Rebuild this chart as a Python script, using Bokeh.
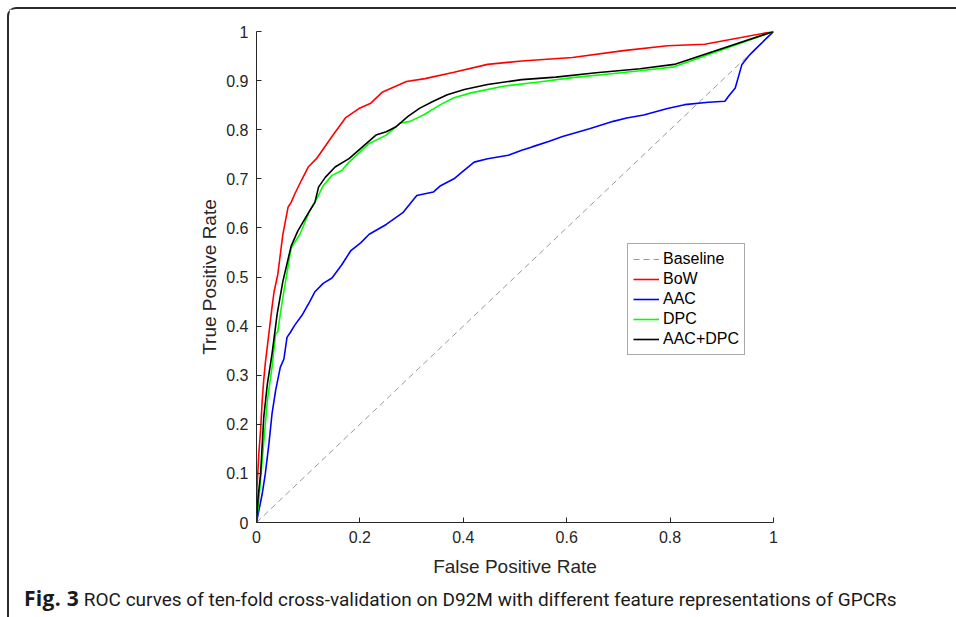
from bokeh.plotting import figure
from bokeh.models import Legend, LegendItem, FixedTicker, Range1d, Div
from bokeh.layouts import column
from bokeh.embed import file_html
from bokeh.resources import INLINE

# ---- data ----
bow_fpr = [0, 0.0, 0.001, 0.0045, 0.008, 0.011, 0.014, 0.017, 0.024, 0.03, 0.034, 0.041, 0.051, 0.061,
           0.067, 0.074, 0.087, 0.1, 0.116, 0.146, 0.172, 0.198, 0.221, 0.244, 0.29, 0.326, 0.382, 0.447,
           0.513, 0.611, 0.71, 0.795, 0.867, 1.0]
bow_tpr = [0, 0.031, 0.072, 0.14, 0.19, 0.248, 0.29, 0.324, 0.385, 0.438, 0.47, 0.504, 0.587, 0.642,
           0.652, 0.669, 0.697, 0.724, 0.741, 0.786, 0.824, 0.843, 0.854, 0.877, 0.898, 0.904, 0.917, 0.933,
           0.94, 0.947, 0.961, 0.971, 0.974, 1.0]

aac_fpr = [0, 0.0045, 0.011, 0.017, 0.024, 0.030, 0.037, 0.046, 0.053, 0.059, 0.066, 0.074, 0.088, 0.103,
           0.113, 0.129, 0.146, 0.165, 0.182, 0.202, 0.218, 0.251, 0.283, 0.31, 0.342, 0.356, 0.382, 0.398,
           0.421, 0.447, 0.487, 0.513, 0.533, 0.565, 0.592, 0.644, 0.69, 0.716, 0.749, 0.795, 0.828, 0.874,
           0.906, 0.913, 0.926, 0.939, 0.952, 0.965, 1.0]
aac_tpr = [0, 0.024, 0.058, 0.099, 0.16, 0.221, 0.269, 0.316, 0.333, 0.377, 0.388, 0.402, 0.422, 0.45,
           0.47, 0.487, 0.498, 0.525, 0.553, 0.57, 0.587, 0.607, 0.631, 0.666, 0.673, 0.686, 0.7, 0.714,
           0.734, 0.741, 0.748, 0.758, 0.765, 0.776, 0.786, 0.802, 0.817, 0.824, 0.830, 0.843, 0.851, 0.856,
           0.858, 0.868, 0.885, 0.933, 0.95, 0.964, 1.0]

dpc_fpr = [0, 0.0045, 0.011, 0.021, 0.03, 0.037, 0.041, 0.05, 0.054, 0.067, 0.084, 0.103, 0.117, 0.129,
           0.146, 0.165, 0.179, 0.218, 0.251, 0.277, 0.297, 0.323, 0.356, 0.382, 0.415, 0.48, 0.546, 0.611,
           0.677, 0.742, 0.808, 1.0]
dpc_tpr = [0, 0.045, 0.126, 0.248, 0.316, 0.384, 0.388, 0.452, 0.477, 0.559, 0.587, 0.635, 0.66, 0.686,
           0.707, 0.717, 0.734, 0.772, 0.789, 0.813, 0.817, 0.83, 0.851, 0.865, 0.875, 0.889, 0.897, 0.906,
           0.913, 0.92, 0.928, 1.0]

combo_fpr = [0, 0.003, 0.008, 0.014, 0.021, 0.03, 0.04, 0.051, 0.067, 0.08, 0.103, 0.113, 0.12, 0.133,
             0.152, 0.179, 0.205, 0.231, 0.251, 0.27, 0.293, 0.316, 0.342, 0.369, 0.402, 0.447, 0.513, 0.579,
             0.657, 0.742, 0.808, 1.0]
combo_tpr = [0, 0.05, 0.1, 0.214, 0.282, 0.343, 0.425, 0.491, 0.563, 0.594, 0.635, 0.652, 0.683, 0.703,
             0.724, 0.741, 0.765, 0.789, 0.796, 0.806, 0.827, 0.844, 0.858, 0.871, 0.882, 0.892, 0.902, 0.907,
             0.916, 0.924, 0.933, 1.0]

baseline_x = [0, 1]
baseline_y = [0, 1]

series_names = ["Baseline", "BoW", "AAC", "DPC", "AAC+DPC"]
x_ticks = [0, 0.2, 0.4, 0.6, 0.8, 1]
y_ticks = [0, 0.1, 0.2, 0.3, 0.4, 0.5, 0.6, 0.7, 0.8, 0.9, 1]
tick_text = {0: "0", 0.1: "0.1", 0.2: "0.2", 0.3: "0.3", 0.4: "0.4", 0.5: "0.5", 0.6: "0.6",
             0.7: "0.7", 0.8: "0.8", 0.9: "0.9", 1: "1"}
caption_bold = "Fig. 3"
caption_rest = "ROC curves of ten-fold cross-validation on D92M with different feature representations of GPCRs"

OFF = 9            # frame line (border) offset of the content
FW, FH = 956 - OFF, 571
p = figure(width=FW, height=FH, output_backend="svg", toolbar_location=None,
           x_range=Range1d(0, 1), y_range=Range1d(0, 1),
           min_border_left=256 - OFF, min_border_right=FW - (773 - OFF),
           min_border_top=31 - OFF, min_border_bottom=FH - (522 - OFF))
p.outline_line_color = None
p.xgrid.visible = False
p.ygrid.visible = False

FONT = "Liberation Sans"
TXT = "#262626"
for ax, ticks in ((p.xaxis[0], x_ticks), (p.yaxis[0], y_ticks)):
    ax.ticker = FixedTicker(ticks=ticks)
    ax.major_label_overrides = tick_text
    ax.major_tick_in = 5
    ax.major_tick_out = 0
    ax.minor_tick_in = 0
    ax.minor_tick_out = 0
    ax.axis_line_color = TXT
    ax.major_tick_line_color = TXT
    ax.major_label_text_font = FONT
    ax.major_label_text_font_size = "16px"
    ax.major_label_text_color = TXT
    ax.axis_label_text_font = FONT
    ax.axis_label_text_font_size = "19px"
    ax.axis_label_text_font_style = "normal"
    ax.axis_label_text_color = TXT
    ax.major_label_standoff = 8
p.xaxis.axis_label = "False Positive Rate"
p.yaxis.axis_label = "True Positive Rate"
p.xaxis.axis_label_standoff = 10
p.yaxis.axis_label_standoff = 3

r0 = p.line(baseline_x, baseline_y, line_color="#999999", line_width=1, line_dash="6 4")
r1 = p.line(bow_fpr, bow_tpr, line_color="#FF0000", line_width=1.6)
r2 = p.line(aac_fpr, aac_tpr, line_color="#0000FF", line_width=1.6)
r3 = p.line(dpc_fpr, dpc_tpr, line_color="#00FF00", line_width=1.6)
r4 = p.line(combo_fpr, combo_tpr, line_color="#000000", line_width=1.6)

legend = Legend(items=[LegendItem(label=n, renderers=[r]) for n, r in
                       zip(series_names, [r0, r1, r2, r3, r4])],
                location=(371, 167), orientation="vertical",
                padding=5, spacing=0, margin=0,
                glyph_width=26, glyph_height=20, label_height=20, label_standoff=4,
                label_text_font=FONT, label_text_font_size="16px", label_text_color="#000000",
                border_line_color="#555555", border_line_width=1,
                background_fill_color="white", background_fill_alpha=1)
p.add_layout(legend, "center")

cap = Div(text=f'<span style="font-family:\'Open Sans\';font-weight:bold;font-size:21px;'
               f'letter-spacing:0.3px">{caption_bold}</span>'
               f'<span style="font-family:Roboto;font-size:19px"> {caption_rest}</span>',
          width=FW, height=617 - OFF - FH - 2,
          styles={"color": "#1a1a1a", "padding-left": "10px", "padding-top": "2px",
                  "white-space": "nowrap", "line-height": "22px"})

page = column(p, cap, spacing=0,
              styles={"border-left": "2px solid #2a2a2a", "border-top": "2px solid #2a2a2a",
                      "border-top-left-radius": "9px", "margin-left": f"{OFF - 2}px",
                      "margin-top": f"{OFF - 2}px"})

open("out.html", "w").write(file_html(page, INLINE))
